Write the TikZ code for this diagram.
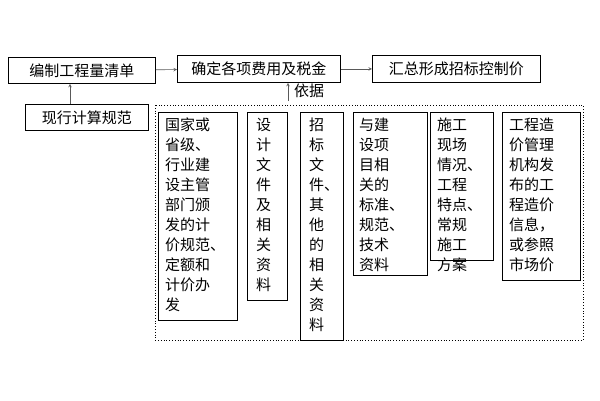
\documentclass[tikz,border=0pt]{standalone}
\usepackage{fontspec}
\setmainfont{Noto Sans CJK SC}
\usetikzlibrary{positioning}
\tikzset{
 step box/.style={rectangle,draw,thick,anchor=north west,inner sep=0pt},
 basis box/.style={rectangle,draw,semithick,anchor=north west,inner sep=0pt},
 basis text/.style={anchor=north west,align=left,inner sep=0pt,
   font=\fontsize{15}{20}\selectfont},
 flow/.style={->,>=stealth,gray!70!black,semithick}
}
\begin{document}
\begin{tikzpicture}[x=1pt,y=-1pt,font=\fontsize{15}{18}\selectfont]
 \useasboundingbox (0,0) rectangle (600,400);
 \node[step box,minimum width=147,minimum height=26] (list) at (8,57) {编制工程量清单};
 \node[step box,minimum width=163,minimum height=27] (fee) at (177,55) {确定各项费用及税金};
 \node[step box,minimum width=168,minimum height=27] (ctrl) at (372,55) {汇总形成招标控制价};
 \node[step box,minimum width=123,minimum height=26] (norm) at (25,104) {现行计算规范};
 \draw[flow] (list) -- (fee);
 \draw[flow] (fee) -- (ctrl);
 \draw[flow] (norm.north -| 70,0) -- (list.south -| 70,0);
 \coordinate (basis) at (288,101);
 \draw[flow] (basis) -- (fee.south -| basis);
 \node[anchor=west,inner sep=1pt] (yiju) at (293,91) {依据};
 \draw[dotted,thick] (155,105) rectangle (583,340);
 % basis boxes
 \node[basis box,minimum width=79,minimum height=208] (b1) at (158,112) {};
 \node[basis box,minimum width=40,minimum height=188] (b2) at (247,112) {};
 \node[basis box,minimum width=43,minimum height=228] (b3) at (300,112) {};
 \node[basis box,minimum width=74,minimum height=163] (b4) at (353,112) {};
 \node[basis box,minimum width=63,minimum height=148] (b5) at (430,112) {};
 \node[basis box,minimum width=78,minimum height=168] (b6) at (502,112) {};
 \node[basis text] (t1) at ([shift={(7,6)}]b1.north west) {国家或\\省级、\\行业建\\设主管\\部门颁\\发的计\\价规范、\\定额和\\计价办\\发};
 \node[basis text] (t2) at ([shift={(9,6)}]b2.north west) {设\\计\\文\\件\\及\\相\\关\\资\\料};
 \node[basis text] (t3) at ([shift={(9,6)}]b3.north west) {招\\标\\文\\件、\\其\\他\\的\\相\\关\\资\\料};
 \node[basis text] (t4) at ([shift={(6,6)}]b4.north west) {与建\\设项\\目相\\关的\\标准、\\规范、\\技术\\资料};
 \node[basis text] (t5) at ([shift={(7,6)}]b5.north west) {施工\\现场\\情况、\\工程\\特点、\\常规\\施工\\方案};
 \node[basis text] (t6) at ([shift={(7,6)}]b6.north west) {工程造\\价管理\\机构发\\布的工\\程造价\\信息，\\或参照\\市场价};
\end{tikzpicture}
\end{document}
